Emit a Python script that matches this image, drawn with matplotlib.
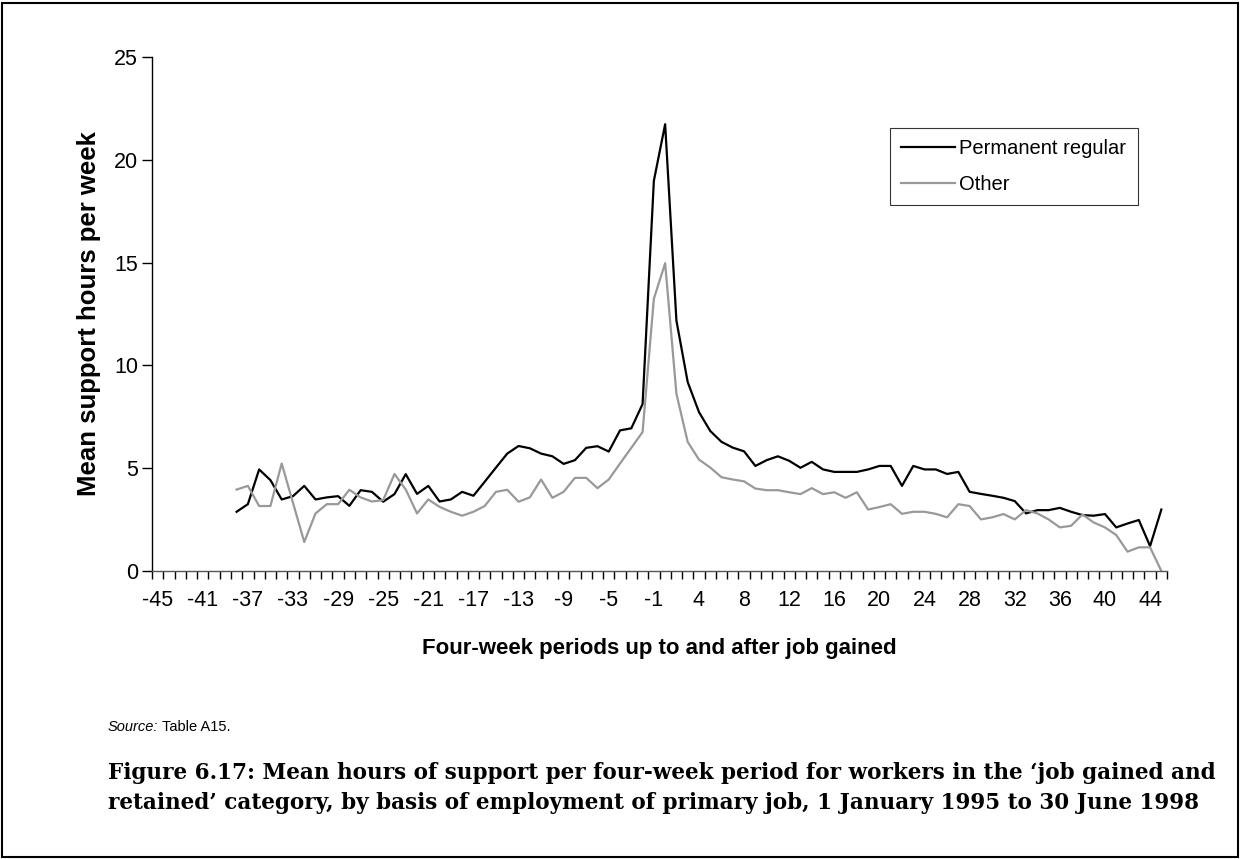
import numpy as np
import matplotlib
matplotlib.use("Agg")
from matplotlib import pyplot as plt
from matplotlib.patches import Rectangle
from matplotlib.ticker import FixedLocator, NullFormatter, FixedFormatter

# four-week periods relative to the job being gained (no period 0)
periods = list(range(-45, 0)) + list(range(1, 46))

# no records before period -38
lead_gap = [np.nan] * 7

permanent_regular = lead_gap + [
    2.88, 3.25, 4.94, 4.42, 3.48, 3.64, 4.14, 3.48, 3.58, 3.64,   # -38 .. -29
    3.17, 3.93, 3.85, 3.37, 3.74, 4.71, 3.75, 4.14, 3.38, 3.48,   # -28 .. -19
    3.85, 3.66, 4.34, 5.03, 5.71, 6.08, 5.97, 5.71, 5.58, 5.21,   # -18 .. -9
    5.39, 5.99, 6.07, 5.81, 6.84, 6.94, 8.12, 18.98,              # -8 .. -1
    21.73, 12.18, 9.19, 7.73, 6.81, 6.28, 6.00, 5.82, 5.11, 5.39,  # 1 .. 10
    5.58, 5.36, 5.02, 5.31, 4.94, 4.82, 4.82, 4.82, 4.94, 5.11,   # 11 .. 20
    5.11, 4.14, 5.11, 4.94, 4.94, 4.72, 4.82, 3.85, 3.75, 3.66,   # 21 .. 30
    3.56, 3.40, 2.80, 2.96, 2.96, 3.07, 2.88, 2.72, 2.69, 2.77,   # 31 .. 40
    2.12, 2.31, 2.48, 1.21, 2.99,                                 # 41 .. 45
]

other = lead_gap + [
    3.96, 4.14, 3.16, 3.16, 5.23, 3.32, 1.41, 2.80, 3.25, 3.25,
    3.95, 3.58, 3.38, 3.45, 4.72, 3.96, 2.80, 3.48, 3.12, 2.88,
    2.69, 2.88, 3.16, 3.85, 3.95, 3.37, 3.58, 4.45, 3.56, 3.85,
    4.53, 4.53, 4.03, 4.45, 5.23, 5.99, 6.76, 13.24,
    14.97, 8.62, 6.28, 5.42, 5.03, 4.56, 4.45, 4.36, 4.01, 3.93,
    3.93, 3.83, 3.74, 4.03, 3.74, 3.83, 3.56, 3.83, 2.99, 3.11,
    3.25, 2.78, 2.88, 2.88, 2.78, 2.61, 3.25, 3.16, 2.51, 2.61,
    2.77, 2.51, 2.96, 2.80, 2.51, 2.12, 2.20, 2.75, 2.36, 2.12,
    1.75, 0.94, 1.15, 1.15, 0.00,
]

y_ticks = [0, 5, 10, 15, 20, 25]

plt.rcParams['font.family'] = ['Liberation Sans', 'DejaVu Sans']

W, H = 1241, 859
fig = plt.figure(figsize=(W / 100, H / 100), dpi=100)
ax = fig.add_axes([152 / W, 1 - 571 / H, (1167 - 152) / W, (571 - 57) / H])

x = np.arange(len(periods))
ax.plot(x, permanent_regular, color='black', lw=1.6, label='Permanent regular')
ax.plot(x, other, color='#999999', lw=1.6, label='Other')

ax.set_xlim(-0.5, len(periods) - 0.5)
ax.set_ylim(0, 25)

# category boundaries carry the tick marks, every 4th category centre carries a label
ax.xaxis.set_major_locator(FixedLocator(np.arange(-0.5, len(periods), 1.0)))
ax.xaxis.set_major_formatter(NullFormatter())
lab_idx = list(range(0, len(periods), 4))
ax.xaxis.set_minor_locator(FixedLocator(lab_idx))
ax.xaxis.set_minor_formatter(FixedFormatter([str(periods[i]) for i in lab_idx]))
ax.tick_params(axis='x', which='major', direction='out', length=6, width=1, color='black')
ax.tick_params(axis='x', which='minor', length=0, labelsize=15.5, pad=14)

ax.set_yticks(y_ticks)
ax.tick_params(axis='y', direction='out', length=7, width=1, labelsize=15.5, pad=3)

for s in ['top', 'right']:
    ax.spines[s].set_visible(False)
for s in ['left', 'bottom']:
    ax.spines[s].set_linewidth(1)
ax.spines['bottom'].set_color('#555555')

ax.set_ylabel('Mean support hours per week', fontsize=18.5, fontweight='bold', labelpad=9)
ax.set_xlabel('Four-week periods up to and after job gained', fontsize=16,
              fontweight='bold', labelpad=19)

leg = ax.legend(loc='upper left', bbox_to_anchor=(738 / 1015, 1 - (128 - 57) / 514),
                fontsize=14.5, frameon=True, fancybox=False, edgecolor='black',
                handlelength=2.7, handletextpad=0.2, borderpad=0.55, labelspacing=0.85,
                borderaxespad=0)
leg.get_frame().set_linewidth(0.8)

src_y = 1 - 727 / H
t_src = fig.text(108 / W, src_y, 'Source:', fontsize=10.5, style='italic', va='center')
fig.canvas.draw()
src_end = t_src.get_window_extent().x1
fig.text((src_end + 4) / W, src_y, 'Table A15.', fontsize=10.5, va='center')

cap_font = dict(family=['DejaVu Serif'], fontsize=15.5, fontweight='bold')
fig.text(108 / W, 1 - 773 / H,
         'Figure 6.17: Mean hours of support per four-week period for workers in the \u2018job gained and',
         va='center', **cap_font)
fig.text(108 / W, 1 - 803 / H,
         'retained\u2019 category, by basis of employment of primary job, 1 January 1995 to 30 June 1998',
         va='center', **cap_font)

# page border around the whole figure
fig.patches.append(Rectangle((2 / W, 2 / H), 1 - 5 / W, 1 - 5 / H,
                             transform=fig.transFigure, fill=False,
                             edgecolor='black', lw=1.5))

fig.savefig('out.png', dpi=100)
